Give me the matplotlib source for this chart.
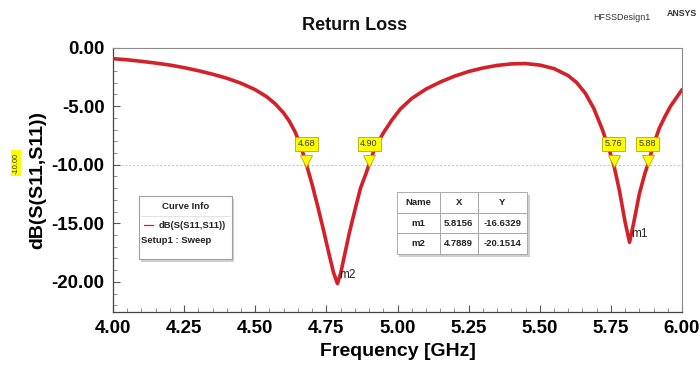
import matplotlib
matplotlib.use("Agg")
import matplotlib.pyplot as plt
from matplotlib.patches import Rectangle
from matplotlib.ticker import MultipleLocator
from matplotlib.transforms import offset_copy

plt.rcParams['font.family'] = ['Liberation Sans', 'DejaVu Sans']

# S11 curve
freq = [4.00, 4.05, 4.10, 4.15, 4.20, 4.25, 4.30, 4.35, 4.40, 4.45, 4.50, 4.54,
        4.57, 4.60, 4.62, 4.64, 4.66, 4.68, 4.70, 4.72, 4.74, 4.76, 4.775,
        4.7889, 4.80, 4.815, 4.83, 4.85, 4.87, 4.89, 4.90, 4.92, 4.95, 4.98,
        5.01, 5.05, 5.10, 5.15, 5.20, 5.25, 5.30, 5.35, 5.40, 5.45, 5.50, 5.55,
        5.60, 5.63, 5.66, 5.69, 5.72, 5.74, 5.76, 5.78, 5.80, 5.8156, 5.83,
        5.85, 5.87, 5.88, 5.90, 5.92, 5.94, 5.96, 5.98, 6.00]
s11_db = [-0.95, -1.05, -1.18, -1.33, -1.5, -1.72, -1.98, -2.28, -2.62, -3.05,
          -3.6, -4.2, -4.8, -5.6, -6.3, -7.2, -8.4, -10.0, -11.7, -13.6, -15.6,
          -17.7, -19.2, -20.15, -19.3, -17.6, -15.9, -13.9, -12.0, -10.7, -10.0,
          -8.6, -7.3, -6.2, -5.25, -4.35, -3.55, -2.95, -2.45, -2.05, -1.75,
          -1.53, -1.4, -1.37, -1.5, -1.8, -2.4, -3.0, -3.9, -5.2, -7.0, -8.4,
          -10.0, -12.2, -14.9, -16.63, -15.0, -12.5, -10.7, -10.0, -8.3, -6.9,
          -5.9, -5.0, -4.3, -3.6]

# -10 dB crossings (flag markers)
cross_x = [4.68, 4.90, 5.76, 5.88]
cross_labels = ["4.68", "4.90", "5.76", "5.88"]
ref_level = -10.0

# marker table
mk_names = ["m1", "m2"]
mk_x = [5.8156, 4.7889]
mk_y = [-16.6329, -20.1514]

red = '#d42129'

fig = plt.figure(figsize=(7, 3.75), dpi=100)
ax = fig.add_axes([113 / 700, 1 - 311.7 / 375, 569 / 700, 264.2 / 375])

ax.plot(freq, s11_db, color=red, lw=2.6, solid_capstyle='round',
        solid_joinstyle='round', zorder=3)
ax.axhline(ref_level, color='#c8c8c8', lw=0.8, ls=(0, (2, 1.5)), zorder=1)

ax.set_xlim(4.0, 6.0)
ax.set_ylim(-22.55, 0.0)
ax.xaxis.set_major_locator(MultipleLocator(0.25))
ax.xaxis.set_minor_locator(MultipleLocator(0.05))
ax.yaxis.set_major_locator(MultipleLocator(5))
ax.yaxis.set_minor_locator(MultipleLocator(1))
ax.xaxis.set_major_formatter(lambda v, p: f"{v:.2f}")
ax.yaxis.set_major_formatter(lambda v, p: f"{v:.2f}")
ax.tick_params(which='major', direction='in', length=5, width=0.8, color='#555555',
               labelsize=13.5, pad=6)
ax.tick_params(which='minor', direction='in', length=3, width=0.6, color='#777777')
for lbl in ax.get_xticklabels() + ax.get_yticklabels():
    lbl.set_fontweight('bold')

for side in ['top', 'right']:
    ax.spines[side].set_color('#8c8c8c')
    ax.spines[side].set_linewidth(0.8)
for side in ['left', 'bottom']:
    ax.spines[side].set_color('#444444')
    ax.spines[side].set_linewidth(0.9)

ax.set_xlabel("Frequency [GHz]", fontsize=14, fontweight='bold', labelpad=4)
ax.set_ylabel("dB(S(S11,S11))", fontsize=14, fontweight='bold', labelpad=4)

# yellow flags at -10 dB crossings
tri_tr = offset_copy(ax.transData, fig=fig, y=4, units='dots')
for x, lab in zip(cross_x, cross_labels):
    ax.plot(x, ref_level, marker='v', ms=8, color='#ffff00', mec='#b8a800',
            mew=0.6, transform=tri_tr, zorder=5, clip_on=False)
    ax.annotate(lab, xy=(x, ref_level), xytext=(0, 15), textcoords='offset points',
                ha='center', va='center', fontsize=6.5, color='#333333', zorder=6,
                bbox=dict(boxstyle='square,pad=0.3', fc='#ffff00', ec='#b8a800', lw=0.6))

# marker labels on the curve
for n, x, y in zip(mk_names, mk_x, mk_y):
    ax.annotate(n, xy=(x, y), xytext=(1, 6), textcoords='offset points',
                ha='left', va='center', fontsize=8.5, color='#222222', zorder=6)

# Curve Info box
lx0, ly0, lw_, lh = 0.046, 0.2, 0.163, 0.238
ax.add_patch(Rectangle((lx0 + 0.004, ly0 - 0.012), lw_, lh, transform=ax.transAxes,
                       fc='#d0d0d0', ec='none', zorder=6))
ax.add_patch(Rectangle((lx0, ly0), lw_, lh, transform=ax.transAxes,
                       fc='white', ec='#a0a0a0', lw=0.8, zorder=7))
ax.plot([lx0 + 0.003, lx0 + lw_ - 0.003], [ly0 + lh - 0.075] * 2, transform=ax.transAxes,
        color='#dddddd', lw=0.6, zorder=8)
ax.text(lx0 + lw_ / 2, ly0 + lh - 0.04, "Curve Info", transform=ax.transAxes,
        ha='center', va='center', fontsize=6.8, fontweight='bold', color='#222222', zorder=8)
ax.plot([lx0 + 0.008, lx0 + 0.025], [ly0 + lh - 0.11] * 2, transform=ax.transAxes,
        color=red, lw=0.9, zorder=8)
ax.text(lx0 + 0.035, ly0 + lh - 0.11, "dB(S(S11,S11))", transform=ax.transAxes,
        ha='left', va='center', fontsize=6.8, fontweight='bold', color='#222222', zorder=8)
ax.text(lx0 + 0.004, ly0 + lh - 0.17, "Setup1 : Sweep", transform=ax.transAxes,
        ha='left', va='center', fontsize=6.8, fontweight='bold', color='#222222', zorder=8)

# marker table
cells = [[n, f"{x:.4f}", f"{y:.4f}"] for n, x, y in zip(mk_names, mk_x, mk_y)]
ax.add_patch(Rectangle((0.503, 0.206), 0.229, 0.235, transform=ax.transAxes,
                       fc='#d0d0d0', ec='none', zorder=6))
tab = ax.table(cellText=cells, colLabels=["Name", "X", "Y"], cellLoc='center',
               bbox=[0.499, 0.218, 0.229, 0.235], colWidths=[0.33, 0.29, 0.38], zorder=7)
tab.auto_set_font_size(False)
tab.set_fontsize(6.8)
for cell in tab.get_celld().values():
    cell.set_edgecolor('#a0a0a0')
    cell.set_linewidth(0.6)
    cell.get_text().set_fontweight('bold')
    cell.get_text().set_color('#222222')

# -10.00 reference tag on the left
fig.text(16 / 700, 1 - 163 / 375, "-10.00", rotation=90, ha='center', va='center',
         fontsize=5.5, color='#333333',
         bbox=dict(boxstyle='square,pad=0.25', fc='#ffff00', ec='none'))

fig.text(355 / 700, 1 - 25 / 375, "Return Loss", ha='center', va='center',
         fontsize=13, fontweight='bold', color='#111111')
fig.text(622 / 700, 1 - 17 / 375, "HFSSDesign1", ha='center', va='center',
         fontsize=6.5, color='#333333')
fig.text(682 / 700, 1 - 13 / 375, "ANSYS", ha='center', va='center',
         fontsize=6.3, fontweight='bold', color='#333333')

fig.savefig("out.png", dpi=100)
